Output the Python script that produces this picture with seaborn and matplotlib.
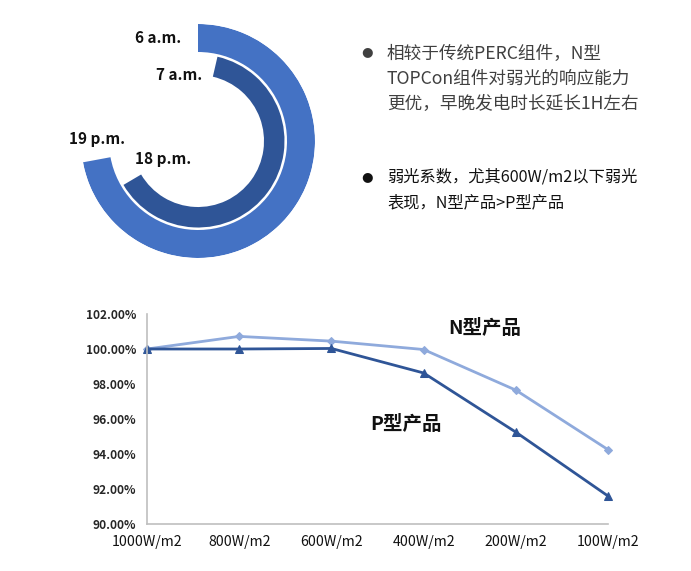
import numpy as np
import pandas as pd
import matplotlib
matplotlib.use("Agg")
import matplotlib.pyplot as plt
import seaborn as sns

# ---------------- data ----------------
irradiance = ["1000W/m2", "800W/m2", "600W/m2", "400W/m2", "200W/m2", "100W/m2"]
n_type = [100.0, 100.72, 100.45, 99.97, 97.65, 94.25]
p_type = [100.0, 100.0, 100.03, 98.63, 95.25, 91.6]
y_ticks = [90, 92, 94, 96, 98, 100, 102]

ring_names = ["outer", "inner"]
ring_start_deg = [0, 13]       # clockwise from 12 o'clock
ring_end_deg = [259.5, 239.5]
ring_start_label = ["6 a.m.", "7 a.m."]
ring_end_label = ["19 p.m.", "18 p.m."]

bullet1 = ["相较于传统PERC组件，N型", "TOPCon组件对弱光的响应能力", "更优，早晚发电时长延长1H左右"]
bullet2 = ["弱光系数，尤其600W/m2以下弱光", "表现，N型产品>P型产品"]
series_labels = ["N型产品", "P型产品"]

# ---------------- style ----------------
sns.set_theme(style="white")
plt.rcParams["font.family"] = ["Noto Sans CJK SC", "DejaVu Sans"]

W, H = 691, 571
fig = plt.figure(figsize=(W / 100, H / 100), dpi=100)
fig.patch.set_facecolor("white")

def px(x, y):
    return x / W, 1 - y / H

# ---------------- donut (radial bars) ----------------
cx, cy, R = 198, 141, 117
axp = fig.add_axes([(cx - R) / W, 1 - (cy + R) / H, 2 * R / W, 2 * R / H], projection="polar")
axp.set_theta_zero_location("N")
axp.set_theta_direction(-1)
axp.set_ylim(0, R)
axp.set_axis_off()
ring_bottom = [89, 66]
ring_height = [28, 20.5]
ring_colors = ["#4472C4", "#2F5597"]
for s, e, b, h, c in zip(ring_start_deg, ring_end_deg, ring_bottom, ring_height, ring_colors):
    th0, th1 = np.deg2rad(s), np.deg2rad(e)
    axp.bar((th0 + th1) / 2, h, width=(th1 - th0), bottom=b, color=c, edgecolor="none", align="center")

lab_kw = dict(fontsize=11, fontweight="bold", color="#111111", ha="center", va="center")
fig.text(*px(158, 38), ring_start_label[0], **lab_kw)
fig.text(*px(179, 75), ring_start_label[1], **lab_kw)
fig.text(*px(97, 139), ring_end_label[0], **lab_kw)
fig.text(*px(163, 159), ring_end_label[1], **lab_kw)

# ---------------- bullet text ----------------
fig.text(*px(367, 51.5), "●", fontsize=9.5, color="#404040", ha="center", va="center", family="DejaVu Sans")
fig.text(*px(367, 177), "●", fontsize=9.5, color="#111111", ha="center", va="center", family="DejaVu Sans")
for i, line in enumerate(bullet1):
    fig.text(*px(387, 53.5 + 25 * i), line, fontsize=12.7, color="#404040", ha="left", va="center")
for i, line in enumerate(bullet2):
    fig.text(*px(387, 177 + 26 * i), line, fontsize=11.7, color="#111111", ha="left", va="center")

# ---------------- line chart ----------------
ax = fig.add_axes([147 / W, 1 - 524 / H, (608 - 147) / W, (524 - 314) / H])
df = pd.DataFrame({"irr": irradiance, "N": n_type, "P": p_type})
sns.lineplot(data=df, x="irr", y="N", ax=ax, sort=False, color="#8FAADC", lw=2,
             marker="D", markersize=4, markeredgecolor="#8FAADC")
sns.lineplot(data=df, x="irr", y="P", ax=ax, sort=False, color="#2F5597", lw=2,
             marker="^", markersize=6, markeredgecolor="#2F5597")
ax.set_xlim(0, len(irradiance) - 1)
ax.set_ylim(y_ticks[0], y_ticks[-1])
ax.set_yticks(y_ticks)
ax.set_yticklabels([f"{v:.2f}%" for v in y_ticks], fontweight="bold")
ax.set_xlabel("")
ax.set_ylabel("")
ax.tick_params(axis="y", length=0, pad=8, labelsize=8.6, labelcolor="#262626")
ax.tick_params(axis="x", length=0, pad=8, labelsize=10.2, labelcolor="#111111")
for sp in ["top", "right"]:
    ax.spines[sp].set_visible(False)
for sp in ["left", "bottom"]:
    ax.spines[sp].set_color("#BFBFBF")
    ax.spines[sp].set_linewidth(1.2)
ax.grid(False)
ax.set_facecolor("none")
for l in ax.lines:
    l.set_clip_on(False)

fig.text(*px(485, 328), series_labels[0], fontsize=14, fontweight="bold", color="#111111", ha="center", va="center")
fig.text(*px(406, 424), series_labels[1], fontsize=14, fontweight="bold", color="#111111", ha="center", va="center")

fig.savefig("out.png", dpi=100, facecolor="white")
